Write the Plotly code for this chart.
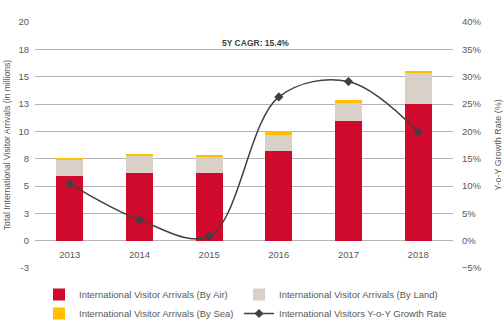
import plotly.graph_objects as go

years = ["2013", "2014", "2015", "2016", "2017", "2018"]
air = [5.9, 6.2, 6.2, 8.2, 10.9, 12.5]
land = [1.5, 1.6, 1.5, 1.5, 1.7, 2.8]
sea = [0.1, 0.06, 0.15, 0.3, 0.3, 0.2]
growth_pct = [10.4, 3.8, 0.8, 26.3, 29.1, 19.9]

left_tickvals = [-2.5, 0, 2.5, 5, 7.5, 10, 12.5, 15, 17.5, 20]
left_ticktext = ["-3", "0", "3", "5", "8", "10", "13", "15", "18", "20"]
right_tickvals = [-0.05, 0, 0.05, 0.10, 0.15, 0.20, 0.25, 0.30, 0.35, 0.40]

names = [
    "International Visitor Arrivals (By Air)",
    "International Visitor Arrivals (By Land)",
    "International Visitor Arrivals (By Sea)",
    "International Visitors Y-o-Y Growth Rate",
]
colors = ["#D00A2C", "#D9D0C7", "#FFC000", "#404040"]
legend_groups = ["legend", "legend2", "legend"]

FONT = "Liberation Sans, Arial, sans-serif"
TXT = "#595959"

fig = go.Figure()
for vals, name, col, lg in zip([air, land, sea], names[:3], colors[:3], legend_groups):
    fig.add_trace(go.Bar(x=years, y=vals, name=name, marker_color=col,
                         marker_line_width=0, yaxis="y", legend=lg))

fig.add_trace(go.Scatter(
    x=years, y=[g / 100 for g in growth_pct], name=names[3], yaxis="y2", legend="legend2",
    mode="lines+markers", line=dict(color=colors[3], width=1.5, shape="spline", smoothing=1),
    marker=dict(symbol="diamond", size=7, color=colors[3]),
))

leg_common = dict(
    orientation="v", xref="paper", yref="paper", y=(268 - 280) / 246,
    xanchor="left", yanchor="top", font=dict(family=FONT, size=9.5, color=TXT),
    itemwidth=30, tracegroupgap=0, traceorder="normal", bgcolor="rgba(0,0,0,0)",
)

fig.update_layout(
    width=503, height=329,
    margin=dict(l=35, r=50, t=22, b=61, autoexpand=False),
    paper_bgcolor="white", plot_bgcolor="white",
    barmode="stack", bargap=0.61,
    font=dict(family=FONT, size=9.5, color=TXT),
    showlegend=True,
    legend=dict(x=(39 - 35) / 418, **leg_common),
    legend2=dict(x=(239 - 35) / 418, **leg_common),
    xaxis=dict(
        type="category", anchor="free", position=2.5 / 22.5,
        showgrid=False, showline=False, ticks="", zeroline=False,
        tickfont=dict(size=9.5, color=TXT), ticklabelstandoff=7,
    ),
    yaxis=dict(
        range=[-2.5, 20], tickvals=left_tickvals, ticktext=left_ticktext,
        showgrid=True, gridcolor="#B4B4B4", gridwidth=1, zeroline=False,
        showline=False, ticks="", ticklabelstandoff=5,
        tickfont=dict(size=9.5, color=TXT),
        title=dict(text="Total International Visitor Arrivals (in millions)",
                   font=dict(size=8.6, color=TXT), standoff=6),
    ),
    yaxis2=dict(
        range=[-0.05, 0.40], tickvals=right_tickvals, tickformat=".0%",
        overlaying="y", side="right", showgrid=False, zeroline=False,
        showline=False, ticks="", ticklabelstandoff=8,
        tickfont=dict(size=9.5, color=TXT),
        title=dict(text="Y-o-Y Growth Rate (%)", font=dict(size=9, color=TXT), standoff=13),
    ),
    annotations=[dict(
        text="<b>5Y CAGR: 15.4%</b>", xref="paper", yref="paper",
        x=(255 - 35) / 418, y=(268 - 36) / 246, showarrow=False,
        font=dict(family="Liberation Sans Narrow, Arial Narrow, sans-serif", size=8.5, color="#404040"),
    )],
)

fig.write_html("out.html")
